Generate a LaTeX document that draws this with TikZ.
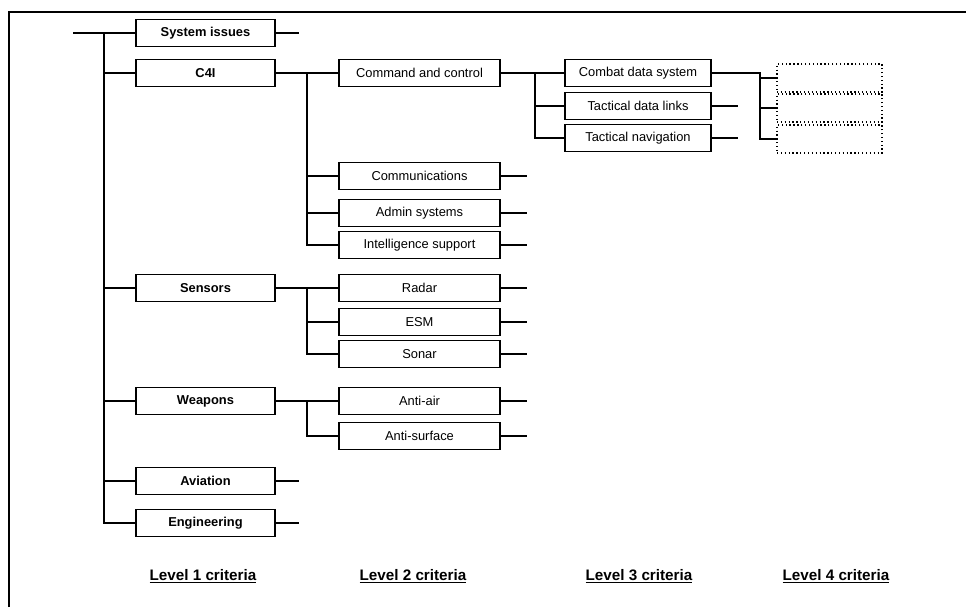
\documentclass[tikz,border=0pt]{standalone}
\usepackage{fontspec}
\setmainfont{Liberation Sans}

\tikzset{
  crit/.style={draw,line width=1.1pt,inner sep=0pt,minimum height=0.81cm,
    font=\fontsize{11}{13}\selectfont},
  levone/.style={crit,minimum width=4.17cm,font=\fontsize{11}{13}\selectfont\bfseries},
  levtwo/.style={crit,minimum width=4.83cm},
  levthree/.style={crit,minimum width=4.38cm},
  levfour/.style={draw,dash pattern=on 1.1pt off 2.2pt,line width=1.1pt,inner sep=0pt,
    minimum width=3.15cm,minimum height=0.84cm},
  levlabel/.style={font=\fontsize{13}{15}\selectfont\bfseries}
}

\begin{document}
\begin{tikzpicture}[x=0.03cm,y=-0.03cm,line cap=butt,line join=miter,line width=0.9pt]
        \useasboundingbox (0,0) rectangle (966,607);

        % frame
        \draw[line width=1pt] (9,607) -- (9,12) -- (966,12);

        % level 1
        \node[levone] (sys)  at (205.5,33)  {System issues};
        \node[levone] (cfi)  at (205.5,73)  {C4I};
        \node[levone] (sens) at (205.5,288) {Sensors};
        \node[levone] (weap) at (205.5,401) {Weapons};
        \node[levone] (avia) at (205.5,481) {Aviation};
        \node[levone] (eng)  at (205.5,523) {Engineering};

        % level 2
        \node[levtwo] (cmd)   at (419.5,73)  {Command and control};
        \node[levtwo] (comm)  at (419.5,176) {Communications};
        \node[levtwo] (admin) at (419.5,213) {Admin systems};
        \node[levtwo] (intel) at (419.5,245) {Intelligence support};
        \node[levtwo] (radar) at (419.5,288) {Radar};
        \node[levtwo] (esm)   at (419.5,322) {ESM};
        \node[levtwo] (sonar) at (419.5,354) {Sonar};
        \node[levtwo] (air)   at (419.5,401) {Anti-air};
        \node[levtwo] (surf)  at (419.5,436) {Anti-surface};

        % level 3
        \node[levthree] (cds) at (638,73)  {Combat data system};
        \node[levthree] (tdl) at (638,106) {Tactical data links};
        \node[levthree] (tnv) at (638,138) {Tactical navigation};

        % level 4
        \node[levfour] (fa) at (829.5,78)  {};
        \node[levfour] (fb) at (829.5,108) {};
        \node[levfour] (fc) at (829.5,139) {};

        % trunk
        \coordinate (root)  at (73,33);
        \coordinate (trunk) at (104,33);
        \draw (root) -- (sys.west);
        \draw (trunk) |- (eng.west);
        \foreach \n in {cfi,sens,weap,avia}
            \draw (trunk |- \n.west) -- (\n.west);

        % level 2 branches
        \coordinate (brtwo) at (307,73);
        \draw (cfi.east) -- (cmd.west);
        \draw (brtwo) |- (intel.west);
        \foreach \n in {comm,admin}
            \draw (brtwo |- \n.west) -- (\n.west);
        \draw (sens.east) -- (radar.west);
        \draw (brtwo |- radar.west) |- (sonar.west);
        \draw (brtwo |- esm.west) -- (esm.west);
        \draw (weap.east) -- (air.west);
        \draw (brtwo |- air.west) |- (surf.west);

        % level 3 branches
        \coordinate (brthree) at (535,73);
        \draw (cmd.east) -- (cds.west);
        \draw (brthree) |- (tnv.west);
        \draw (brthree |- tdl.west) -- (tdl.west);

        % level 4 branches
        \coordinate (brfour) at (760,73);
        \draw (cds.east) -- (brfour) |- (fc.west);
        \draw (brfour) |- (fa.west);
        \draw (brfour |- fb.west) -- (fb.west);

        % open ends
        \foreach \n in {sys,avia,eng}
            \draw (\n.east) -- ++(23,0);
        \foreach \n in {comm,admin,intel,radar,esm,sonar,air,surf,tdl,tnv}
            \draw (\n.east) -- ++(26,0);

        % level captions
        \node[levlabel] (capa) at (203,576) {\underline{Level 1 criteria}};
        \node[levlabel] (capb) at (413,576) {\underline{Level 2 criteria}};
        \node[levlabel] (capc) at (639,576) {\underline{Level 3 criteria}};
        \node[levlabel] (capd) at (836,576) {\underline{Level 4 criteria}};
    \end{tikzpicture}
\end{document}
